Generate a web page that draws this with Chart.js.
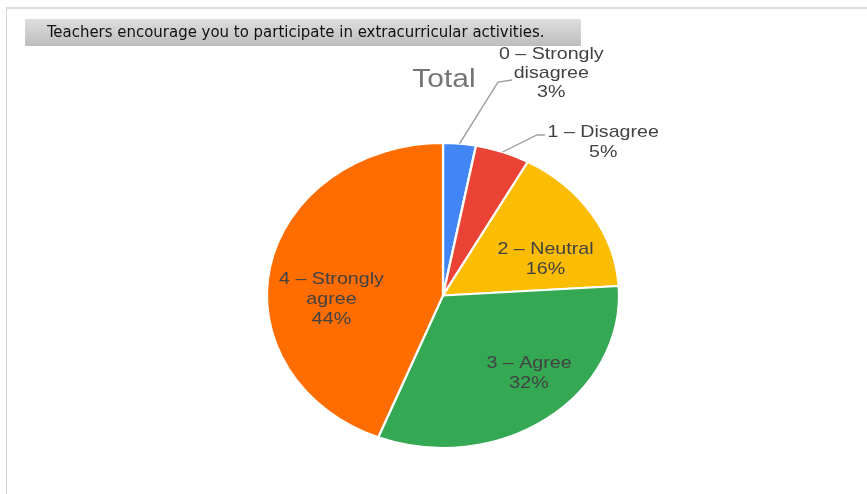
<!DOCTYPE html>
<html>
<head>
<meta charset="utf-8">
<script src="https://cdn.jsdelivr.net/npm/chart.js@4"></script>
<style>
  html, body { margin: 0; padding: 0; background: #fff; }
  .chart-box { position: relative; width: 867px; height: 494px; }
</style>
</head>
<body>
<div class="chart-box">
  <canvas id="pie-chart"></canvas>
</div>
<script>
// data
const categories = ["0 – Strongly disagree", "1 – Disagree", "2 – Neutral", "3 – Agree", "4 – Strongly agree"];
const shares = [3, 5, 16, 32, 44];
const sliceColors = ["#4285F4", "#EA4335", "#FBBC04", "#34A853", "#FF6D01"];

// how each category name wraps in its label
const labelLines = [["0 – Strongly", "disagree"], ["1 – Disagree"], ["2 – Neutral"], ["3 – Agree"], ["4 – Strongly", "agree"]];

const titleText = "Teachers encourage you to participate in extracurricular activities.";
const pieTitle = "Total";

// the reference is stretched sideways, so everything is drawn in unstretched units
const STRETCH = 1.1545;

// label anchors (unstretched canvas units), leader knee/end for the outside ones
const labelLayout = [
  { x: 477.5, y: 54, lh: 19, leader: [[431.4, 82], [443.5, 80]] },
  { x: 522.5, y: 132, lh: 20, leader: [[465.1, 135], [472, 135]] },
  { x: 472.5, y: 249, lh: 20 },
  { x: 458.2, y: 363, lh: 20 },
  { x: 287.1, y: 279, lh: 20 }
];

const stretchPlugin = {
  id: "stretch",
  beforeDraw(chart) {
    const ctx = chart.ctx;
    // frame lines
    ctx.fillStyle = "#dcdcdc";
    ctx.fillRect(6, 7, chart.width - 6, 2);
    ctx.fillStyle = "#d6d6d6";
    ctx.fillRect(6, 7, 1, chart.height - 7);
    ctx.save();
    ctx.scale(STRETCH, 1);

    // grey title bar
    const g = ctx.createLinearGradient(0, 19, 0, 46);
    g.addColorStop(0, "#dedede");
    g.addColorStop(1, "#bdbdbd");
    ctx.fillStyle = g;
    ctx.fillRect(21.7, 19, 481.5, 27);
    ctx.fillStyle = "#111";
    ctx.font = "15px 'DejaVu Sans Condensed', 'DejaVu Sans', sans-serif";
    ctx.textAlign = "left";
    ctx.textBaseline = "alphabetic";
    ctx.fillText(titleText, 40.7, 37, 431);

    // "Total"
    ctx.fillStyle = "#757575";
    ctx.font = "26px 'Liberation Sans', Arial, sans-serif";
    ctx.textAlign = "center";
    ctx.fillText(pieTitle, 384.6, 87);
  },
  afterDatasetsDraw(chart) {
    const ctx = chart.ctx;
    const arcs = chart.getDatasetMeta(0).data;
    ctx.save();
    arcs.forEach((arc, i) => {
      const lay = labelLayout[i];
      if (lay.leader) {
        const p = arc.getProps(["x", "y", "startAngle", "endAngle", "outerRadius"], true);
        const mid = (p.startAngle + p.endAngle) / 2;
        ctx.beginPath();
        ctx.moveTo(p.x + p.outerRadius * Math.cos(mid), p.y + p.outerRadius * Math.sin(mid));
        lay.leader.forEach(pt => ctx.lineTo(pt[0], pt[1]));
        ctx.strokeStyle = "#9e9e9e";
        ctx.lineWidth = 1.3;
        ctx.stroke();
      }
      const lines = labelLines[i].concat([shares[i] + "%"]);
      ctx.fillStyle = "#424242";
      ctx.font = "17px 'Liberation Sans', Arial, sans-serif";
      ctx.textAlign = "center";
      ctx.textBaseline = "middle";
      lines.forEach((t, k) => ctx.fillText(t, lay.x, lay.y + k * lay.lh));
    });
    ctx.restore();
  },
  afterDraw(chart) {
    chart.ctx.restore();
  }
};

new Chart(document.getElementById("pie-chart"), {
  type: "pie",
  data: {
    labels: categories,
    datasets: [{
      data: shares,
      backgroundColor: sliceColors,
      borderColor: "#ffffff",
      borderWidth: 2,
      clip: false
    }]
  },
  options: {
    responsive: true,
    maintainAspectRatio: false,
    animation: false,
    events: [],
    layout: { padding: { left: 230.2, right: 329.8, top: 142, bottom: 45 } },
    plugins: {
      legend: { display: false },
      tooltip: { enabled: false },
      title: { display: false }
    }
  },
  plugins: [stretchPlugin]
});
</script>
</body>
</html>
